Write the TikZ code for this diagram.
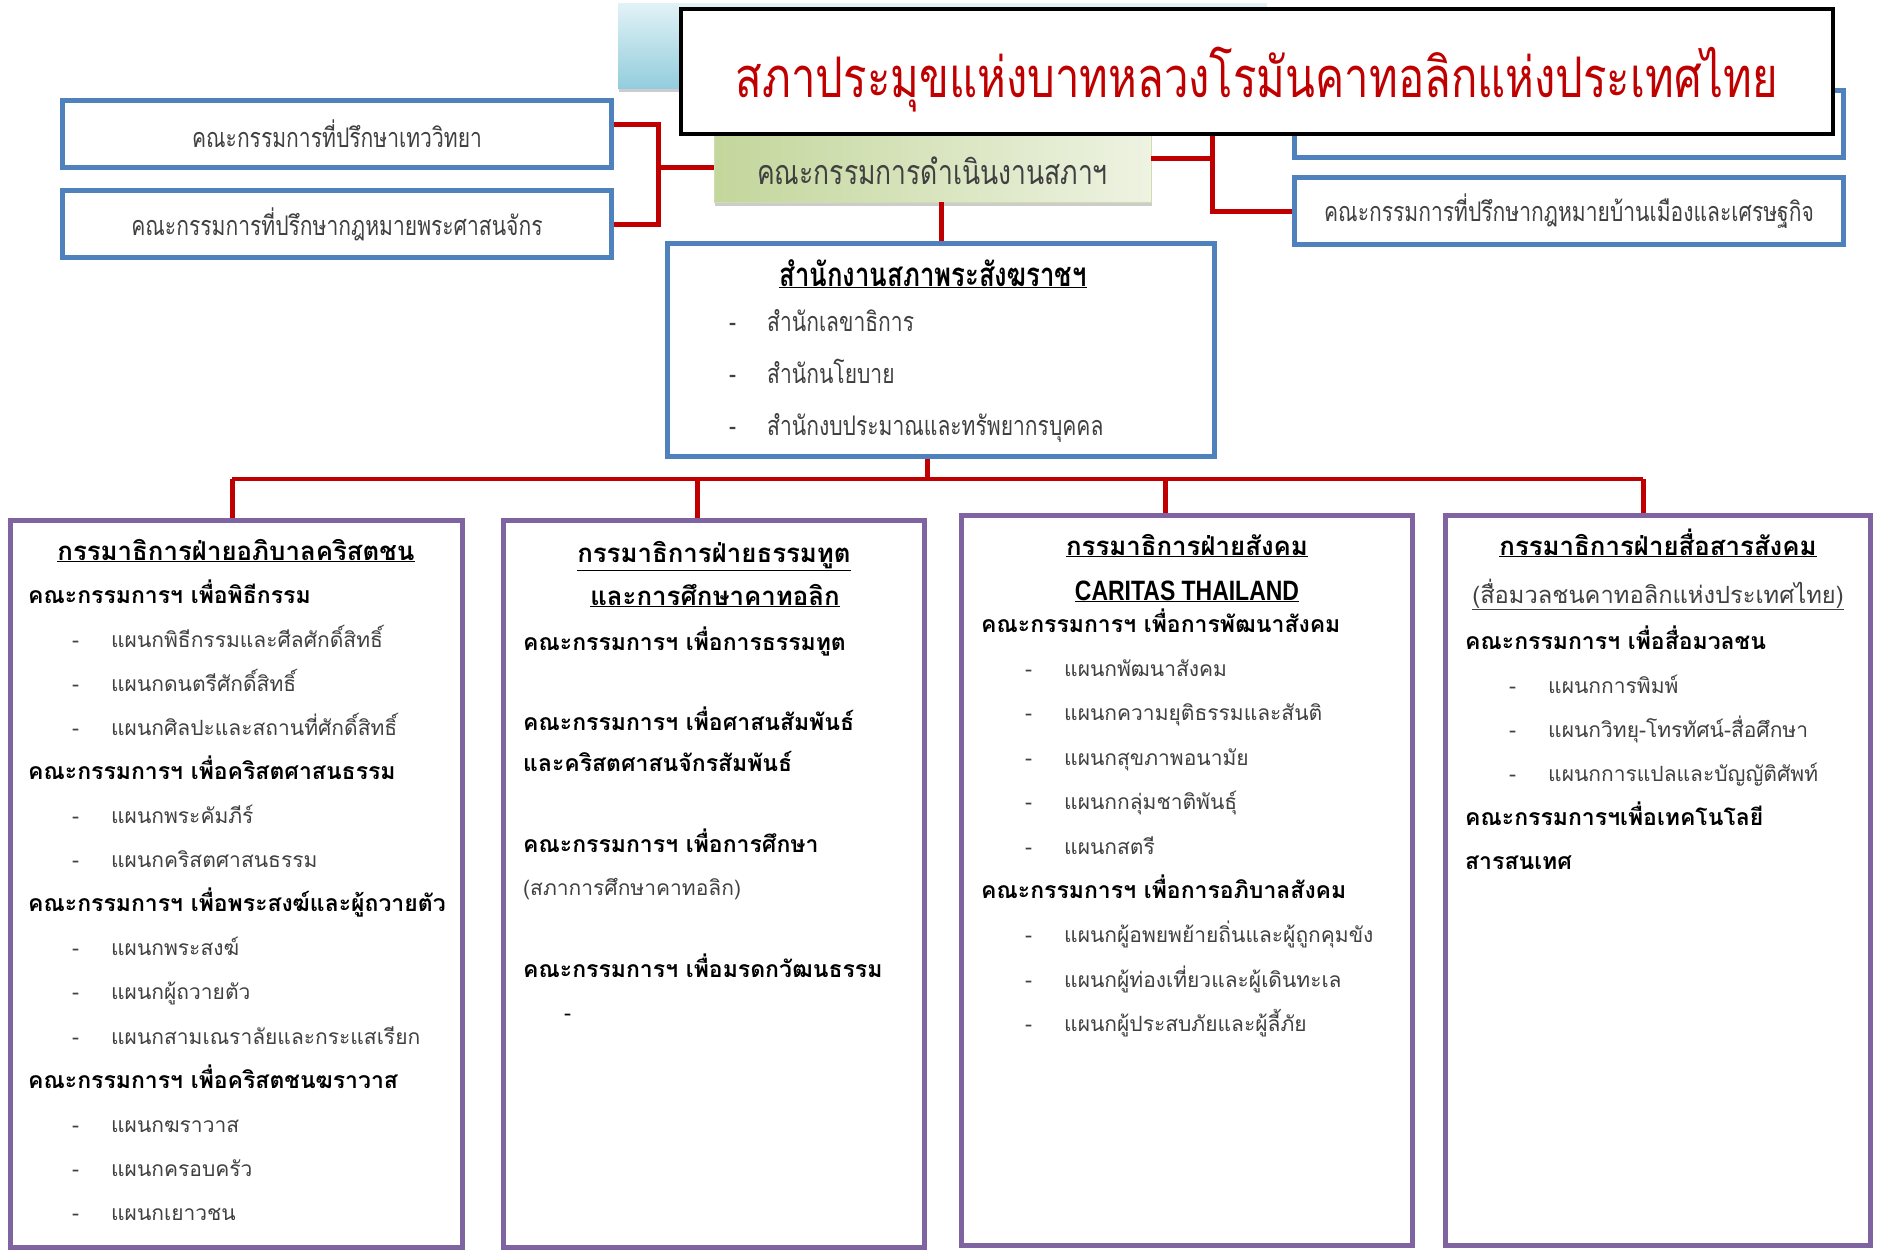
\documentclass[tikz,border=0pt]{standalone}
\usepackage{fontspec}
\setmainfont[Script=Thai]{Loma}
\newfontfamily\bigthai[Script=Thai,FakeStretch=0.78]{Loma}
\newfontfamily\slimthai[Script=Thai,FakeStretch=0.78]{Loma}
\newfontfamily\capsfont[FakeStretch=0.82]{Liberation Sans}
\usetikzlibrary{shadows}
\definecolor{boxblue}{HTML}{4F81BD}
\definecolor{boxpurple}{HTML}{8064A2}
\definecolor{linkred}{HTML}{C00000}
\definecolor{cyanlight}{HTML}{E2F2F6}
\definecolor{cyandark}{HTML}{93CDDD}
\definecolor{greenlight}{HTML}{EEF3E2}
\definecolor{greendark}{HTML}{C3D69B}
\definecolor{itemgray}{HTML}{404040}
\tikzset{
	advbox/.style={draw=boxblue, line width=5pt, fill=white, minimum width=549pt, minimum height=67pt, text=itemgray, font=\slimthai\fontsize{27}{32}\selectfont},
	deptbox/.style={draw=boxpurple, line width=5pt, fill=white},
	link/.style={draw=linkred, line width=5pt},
	headline/.style={anchor=base west, inner sep=0pt, font=\bfseries\fontsize{23}{28}\selectfont},
	subline/.style={anchor=base west, inner sep=0pt, xshift=44pt, text=itemgray, font=\fontsize{21}{26}\selectfont, execute at begin node={\makebox[39pt][l]{-}}},
	deptitle/.style={anchor=base, inner sep=0pt, font=\bfseries\fontsize{25.8}{30}\selectfont},
	officeline/.style={anchor=base west, inner sep=0pt, text=itemgray, font=\slimthai\fontsize{27}{32}\selectfont, execute at begin node={\makebox[38pt][l]{-}}}
}
\begin{document}
\begin{tikzpicture}
	[x=1pt, y=-1pt]
	\useasboundingbox (0,0) rectangle (1880,1254);
	\node[top color=cyanlight, bottom color=cyandark, minimum width=649pt, minimum height=85pt, drop shadow={shadow xshift=1pt, shadow yshift=-4pt, opacity=0.4}] (band) at (942.5,45.5) {};
	\node[advbox] (rb1) at (1569,123.5) {};
	\node[advbox] (rb2) at (1569,211) {คณะกรรมการที่ปรึกษากฎหมายบ้านเมืองและเศรษฐกิจ};
	\node[advbox] (lb1) at (337,134) {คณะกรรมการที่ปรึกษาเทววิทยา};
	\node[advbox] (lb2) at (337,224) {คณะกรรมการที่ปรึกษากฎหมายพระศาสนจักร};
	\node[left color=greendark, right color=greenlight, draw=greendark!80, minimum width=437pt, minimum height=74pt, drop shadow={shadow xshift=1pt, shadow yshift=-4pt, opacity=0.4}] (dir) at (932.5,165) {};
	\node[text=itemgray, font=\slimthai\fontsize{34}{40}\selectfont] (dirtext) at (932.5,171) {คณะกรรมการดำเนินงานสภาฯ};
	\coordinate (jl) at (658,167);
	\coordinate (jr) at (1212,158);
	\draw[link] ([yshift=10pt]lb1.east) -| (jl) |- (lb2.east);
	\draw[link] (jl) -- (jl -| dir.west);
	\draw[link] (jr -| dir.east) -- (jr);
	\draw[link] (rb1.west -| jr) -- (jr |- rb2.west) -- (rb2.west);
	\node[draw=black, line width=4pt, fill=white, minimum width=1152pt, minimum height=125pt] (title) at (1257,71.5) {};
	\node[text=linkred, font=\bigthai\fontsize{56}{64}\selectfont] (titletext) at (1257,80) {สภาประมุขแห่งบาทหลวงโรมันคาทอลิกแห่งประเทศไทย};
	\node[draw=boxblue, line width=5pt, fill=white, minimum width=547pt, minimum height=213pt] (office) at (941,350) {};
	\draw[link] (dir.south -| office.north) -- (office.north);
	\node[anchor=base, inner sep=0pt, font=\slimthai\bfseries\fontsize{33}{38}\selectfont] (officehead) at (933,286) {\underline{สำนักงานสภาพระสังฆราชฯ}};
	\foreach \t [count=\i from 0] in {สำนักเลขาธิการ, สำนักนโยบาย, สำนักงบประมาณและทรัพยากรบุคคล}
		\node[officeline] (off\i) at (729,331+52*\i) {\t};
	\coordinate (bus) at (927,479);
	\coordinate (t1) at (232,479);
	\coordinate (t2) at (697,479);
	\coordinate (t3) at (1165,479);
	\coordinate (t4) at (1643,479);
	\draw[link] (bus |- office.south) -- (bus);
	\draw[link, line width=4pt] (t1) -- (t4);
	\node[deptbox, minimum width=452pt, minimum height=727pt] (c1) at (236.5,884) {};
	\node[deptbox, minimum width=421pt, minimum height=727pt] (c2) at (714,884) {};
	\node[deptbox, minimum width=451pt, minimum height=730pt] (c3) at (1187,880.5) {};
	\node[deptbox, minimum width=425pt, minimum height=730pt] (c4) at (1658,880.5) {};
	\foreach \i in {1,...,4}
		\draw[link] (t\i) -- (t\i |- c\i.north);
	\node[deptitle] (c1head) at (236,560) {\underline{กรรมาธิการฝ่ายอภิบาลคริสตชน}};
	\foreach \s/\t [count=\i from 0] in {headline/คณะกรรมการฯ เพื่อพิธีกรรม,
		subline/แผนกพิธีกรรมและศีลศักดิ์สิทธิ์,
		subline/แผนกดนตรีศักดิ์สิทธิ์,
		subline/แผนกศิลปะและสถานที่ศักดิ์สิทธิ์,
		headline/คณะกรรมการฯ เพื่อคริสตศาสนธรรม,
		subline/แผนกพระคัมภีร์,
		subline/แผนกคริสตศาสนธรรม,
		headline/คณะกรรมการฯ เพื่อพระสงฆ์และผู้ถวายตัว,
		subline/แผนกพระสงฆ์,
		subline/แผนกผู้ถวายตัว,
		subline/แผนกสามเณราลัยและกระแสเรียก,
		headline/คณะกรรมการฯ เพื่อคริสตชนฆราวาส,
		subline/แผนกฆราวาส,
		subline/แผนกครอบครัว,
		subline/แผนกเยาวชน}
		\node[\s] (c1l\i) at (28,603+44.1*\i) {\t};
	\node[deptitle] (c2head) at (714,562) {\underline{กรรมาธิการฝ่ายธรรมทูต}};
	\node[deptitle] (c2sub) at (715,605) {\underline{และการศึกษาคาทอลิก}};
	\node[headline] (c2l0) at (523,650) {คณะกรรมการฯ เพื่อการธรรมทูต};
	\node[headline] (c2l1) at (523,730) {คณะกรรมการฯ เพื่อศาสนสัมพันธ์};
	\node[headline] (c2l2) at (523,771) {และคริสตศาสนจักรสัมพันธ์};
	\node[headline] (c2l3) at (523,852) {คณะกรรมการฯ เพื่อการศึกษา};
	\node[headline, font=\fontsize{21}{26}\selectfont, text=itemgray] (c2l4) at (523,895) {(สภาการศึกษาคาทอลิก)};
	\node[headline] (c2l5) at (523,977) {คณะกรรมการฯ เพื่อมรดกวัฒนธรรม};
	\node[headline, font=\fontsize{21}{26}\selectfont] (c2l6) at (564,1020) {-};
	\node[deptitle] (c3head) at (1187,555) {\underline{กรรมาธิการฝ่ายสังคม}};
	\node[deptitle, font=\capsfont\bfseries\fontsize{28}{32}\selectfont] (c3sub) at (1187,600) {\underline{CARITAS THAILAND}};
	\foreach \s/\t [count=\i from 0] in {headline/คณะกรรมการฯ เพื่อการพัฒนาสังคม,
		subline/แผนกพัฒนาสังคม,
		subline/แผนกความยุติธรรมและสันติ,
		subline/แผนกสุขภาพอนามัย,
		subline/แผนกกลุ่มชาติพันธุ์,
		subline/แผนกสตรี,
		headline/คณะกรรมการฯ เพื่อการอภิบาลสังคม,
		subline/แผนกผู้อพยพย้ายถิ่นและผู้ถูกคุมขัง,
		subline/แผนกผู้ท่องเที่ยวและผู้เดินทะเล,
		subline/แผนกผู้ประสบภัยและผู้ลี้ภัย}
		\node[\s] (c3l\i) at (981,632+44.4*\i) {\t};
	\node[deptitle] (c4head) at (1658,555) {\underline{กรรมาธิการฝ่ายสื่อสารสังคม}};
	\node[deptitle, font=\fontsize{23.7}{28}\selectfont, text=itemgray] (c4sub) at (1658,603) {\underline{(สื่อมวลชนคาทอลิกแห่งประเทศไทย)}};
	\foreach \s/\t [count=\i from 0] in {headline/คณะกรรมการฯ เพื่อสื่อมวลชน,
		subline/แผนกการพิมพ์,
		subline/แผนกวิทยุ-โทรทัศน์-สื่อศึกษา,
		subline/แผนกการแปลและบัญญัติศัพท์,
		headline/คณะกรรมการฯเพื่อเทคโนโลยี,
		headline/สารสนเทศ}
		\node[\s] (c4l\i) at (1465,649+44*\i) {\t};
	\end{tikzpicture}
\end{document}
